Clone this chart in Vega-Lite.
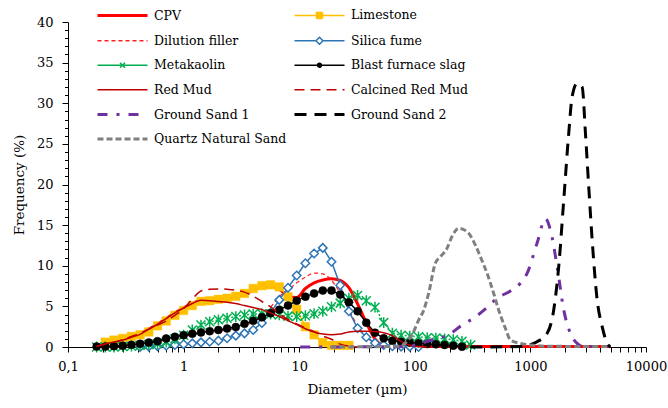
{
"$schema": "https://vega.github.io/schema/vega-lite/v6.json",
"width": 578, "height": 325,
"autosize": {"type": "none"},
"padding": {"left": 68, "top": 22, "right": 22, "bottom": 61},
"background": "white",
"data": {"values": [
{"s":"CPV","d":0.1768,"v":0.05},{"s":"CPV","d":0.2102,"v":0.4},{"s":"CPV","d":0.25,"v":0.6},{"s":"CPV","d":0.2973,"v":0.85},{"s":"CPV","d":0.3536,"v":1.2},{"s":"CPV","d":0.4204,"v":1.55},{"s":"CPV","d":0.5,"v":2.2},{"s":"CPV","d":0.5946,"v":2.8},{"s":"CPV","d":0.7071,"v":3.5},{"s":"CPV","d":0.8409,"v":4.2},{"s":"CPV","d":1,"v":4.8},{"s":"CPV","d":1.189,"v":5.35},{"s":"CPV","d":1.414,"v":5.75},{"s":"CPV","d":1.682,"v":5.8},{"s":"CPV","d":2,"v":5.9},{"s":"CPV","d":2.378,"v":6.0},{"s":"CPV","d":2.828,"v":6.2},{"s":"CPV","d":3.364,"v":6.5},{"s":"CPV","d":4,"v":7.0},{"s":"CPV","d":4.757,"v":7.4},{"s":"CPV","d":5.657,"v":7.5},{"s":"CPV","d":6.727,"v":7.1},{"s":"CPV","d":8,"v":6.3},{"s":"CPV","d":9.514,"v":6.1},{"s":"CPV","d":11.31,"v":7.2},{"s":"CPV","d":13.45,"v":7.9},{"s":"CPV","d":16,"v":8.25},{"s":"CPV","d":19.03,"v":8.4},{"s":"CPV","d":22.63,"v":8.2},{"s":"CPV","d":26.91,"v":7.3},{"s":"CPV","d":32,"v":5.3},{"s":"CPV","d":38.05,"v":3.0},{"s":"CPV","d":45.25,"v":1.0},{"s":"CPV","d":53.82,"v":0.2},{"s":"CPV","d":64,"v":0.05},{"s":"CPV","d":4871,"v":0.05},

{"s":"Limestone","d":0.2102,"v":0.6},{"s":"Limestone","d":0.25,"v":0.85},{"s":"Limestone","d":0.2973,"v":1.05},{"s":"Limestone","d":0.3536,"v":1.3},{"s":"Limestone","d":0.4204,"v":1.5},{"s":"Limestone","d":0.5,"v":1.85},{"s":"Limestone","d":0.5946,"v":2.6},{"s":"Limestone","d":0.7071,"v":3.2},{"s":"Limestone","d":0.8409,"v":3.9},{"s":"Limestone","d":1,"v":4.5},{"s":"Limestone","d":1.189,"v":5.1},{"s":"Limestone","d":1.414,"v":5.62},{"s":"Limestone","d":1.682,"v":5.7},{"s":"Limestone","d":2,"v":5.87},{"s":"Limestone","d":2.378,"v":6.0},{"s":"Limestone","d":2.828,"v":6.24},{"s":"Limestone","d":3.364,"v":6.6},{"s":"Limestone","d":4,"v":7.2},{"s":"Limestone","d":4.757,"v":7.55},{"s":"Limestone","d":5.657,"v":7.65},{"s":"Limestone","d":6.727,"v":7.4},{"s":"Limestone","d":8,"v":6.2},{"s":"Limestone","d":9.514,"v":4.64},{"s":"Limestone","d":11.31,"v":2.5},{"s":"Limestone","d":13.45,"v":1.5},{"s":"Limestone","d":16,"v":0.55},{"s":"Limestone","d":19.03,"v":0.2},{"s":"Limestone","d":22.63,"v":0.2},{"s":"Limestone","d":26.91,"v":0.2},

{"s":"Dilution filler","d":0.1768,"v":0.05},{"s":"Dilution filler","d":0.2102,"v":0.05},{"s":"Dilution filler","d":0.25,"v":0.05},{"s":"Dilution filler","d":0.2973,"v":0.12},{"s":"Dilution filler","d":0.3536,"v":0.22},{"s":"Dilution filler","d":0.4204,"v":0.35},{"s":"Dilution filler","d":0.5,"v":0.48},{"s":"Dilution filler","d":0.5946,"v":0.62},{"s":"Dilution filler","d":0.7071,"v":0.9},{"s":"Dilution filler","d":0.8409,"v":1.1},{"s":"Dilution filler","d":1,"v":1.3},{"s":"Dilution filler","d":1.189,"v":1.48},{"s":"Dilution filler","d":1.414,"v":1.63},{"s":"Dilution filler","d":1.682,"v":1.78},{"s":"Dilution filler","d":2,"v":1.93},{"s":"Dilution filler","d":2.378,"v":2.1},{"s":"Dilution filler","d":2.828,"v":2.3},{"s":"Dilution filler","d":3.364,"v":2.65},{"s":"Dilution filler","d":4,"v":3.1},{"s":"Dilution filler","d":4.757,"v":3.9},{"s":"Dilution filler","d":5.657,"v":4.9},{"s":"Dilution filler","d":6.727,"v":6.2},{"s":"Dilution filler","d":8,"v":7.0},{"s":"Dilution filler","d":9.514,"v":7.9},{"s":"Dilution filler","d":11.31,"v":8.6},{"s":"Dilution filler","d":13.45,"v":9.1},{"s":"Dilution filler","d":16,"v":9.0},{"s":"Dilution filler","d":19.03,"v":8.2},{"s":"Dilution filler","d":22.63,"v":6.6},{"s":"Dilution filler","d":26.91,"v":4.6},{"s":"Dilution filler","d":32,"v":2.6},{"s":"Dilution filler","d":38.05,"v":1.2},{"s":"Dilution filler","d":45.25,"v":0.5},{"s":"Dilution filler","d":53.82,"v":0.2},{"s":"Dilution filler","d":64,"v":0.1},{"s":"Dilution filler","d":76.11,"v":0},

{"s":"Silica fume","d":0.4204,"v":0},{"s":"Silica fume","d":0.5,"v":0.05},{"s":"Silica fume","d":0.5946,"v":0.1},{"s":"Silica fume","d":0.7071,"v":0.15},{"s":"Silica fume","d":0.8409,"v":0.25},{"s":"Silica fume","d":1,"v":0.33},{"s":"Silica fume","d":1.189,"v":0.45},{"s":"Silica fume","d":1.414,"v":0.57},{"s":"Silica fume","d":1.682,"v":0.65},{"s":"Silica fume","d":2,"v":0.78},{"s":"Silica fume","d":2.378,"v":1.07},{"s":"Silica fume","d":2.828,"v":1.4},{"s":"Silica fume","d":3.364,"v":1.68},{"s":"Silica fume","d":4,"v":2.1},{"s":"Silica fume","d":4.757,"v":2.95},{"s":"Silica fume","d":5.657,"v":4.2},{"s":"Silica fume","d":6.727,"v":5.8},{"s":"Silica fume","d":8,"v":7.3},{"s":"Silica fume","d":9.514,"v":8.8},{"s":"Silica fume","d":11.31,"v":10.3},{"s":"Silica fume","d":13.45,"v":11.5},{"s":"Silica fume","d":16,"v":12.2},{"s":"Silica fume","d":19.03,"v":10.5},{"s":"Silica fume","d":22.63,"v":7.6},{"s":"Silica fume","d":26.91,"v":4.4},{"s":"Silica fume","d":32,"v":2.3},{"s":"Silica fume","d":38.05,"v":1.2},{"s":"Silica fume","d":45.25,"v":0.5},{"s":"Silica fume","d":53.82,"v":0.25},{"s":"Silica fume","d":64,"v":0.1},{"s":"Silica fume","d":76.11,"v":0.05},{"s":"Silica fume","d":90.51,"v":0.05},{"s":"Silica fume","d":107.6,"v":0},

{"s":"Metakaolin","d":0.1768,"v":0},{"s":"Metakaolin","d":0.2102,"v":0},{"s":"Metakaolin","d":0.25,"v":0},{"s":"Metakaolin","d":0.2973,"v":0.05},{"s":"Metakaolin","d":0.3536,"v":0.1},{"s":"Metakaolin","d":0.4204,"v":0.2},{"s":"Metakaolin","d":0.5,"v":0.3},{"s":"Metakaolin","d":0.5946,"v":0.4},{"s":"Metakaolin","d":0.7071,"v":0.6},{"s":"Metakaolin","d":0.8409,"v":1.0},{"s":"Metakaolin","d":1,"v":1.45},{"s":"Metakaolin","d":1.189,"v":2.1},{"s":"Metakaolin","d":1.414,"v":2.7},{"s":"Metakaolin","d":1.682,"v":3.1},{"s":"Metakaolin","d":2,"v":3.35},{"s":"Metakaolin","d":2.378,"v":3.55},{"s":"Metakaolin","d":2.828,"v":3.75},{"s":"Metakaolin","d":3.364,"v":3.95},{"s":"Metakaolin","d":4,"v":4.05},{"s":"Metakaolin","d":4.757,"v":4.1},{"s":"Metakaolin","d":5.657,"v":4.05},{"s":"Metakaolin","d":6.727,"v":3.95},{"s":"Metakaolin","d":8,"v":3.8},{"s":"Metakaolin","d":9.514,"v":3.75},{"s":"Metakaolin","d":11.31,"v":3.85},{"s":"Metakaolin","d":13.45,"v":4.1},{"s":"Metakaolin","d":16,"v":4.4},{"s":"Metakaolin","d":19.03,"v":4.95},{"s":"Metakaolin","d":22.63,"v":5.4},{"s":"Metakaolin","d":26.91,"v":6.0},{"s":"Metakaolin","d":32,"v":6.35},{"s":"Metakaolin","d":38.05,"v":5.7},{"s":"Metakaolin","d":45.25,"v":4.9},{"s":"Metakaolin","d":53.82,"v":3.0},{"s":"Metakaolin","d":64,"v":1.7},{"s":"Metakaolin","d":76.11,"v":1.45},{"s":"Metakaolin","d":90.51,"v":1.35},{"s":"Metakaolin","d":107.6,"v":1.25},{"s":"Metakaolin","d":128,"v":1.15},{"s":"Metakaolin","d":152.2,"v":1.1},{"s":"Metakaolin","d":181,"v":1.0},{"s":"Metakaolin","d":215.3,"v":0.9},{"s":"Metakaolin","d":256,"v":0.7},{"s":"Metakaolin","d":304.4,"v":0.25},

{"s":"Blast furnace slag","d":0.1768,"v":0.05},{"s":"Blast furnace slag","d":0.2102,"v":0.05},{"s":"Blast furnace slag","d":0.25,"v":0.1},{"s":"Blast furnace slag","d":0.2973,"v":0.15},{"s":"Blast furnace slag","d":0.3536,"v":0.27},{"s":"Blast furnace slag","d":0.4204,"v":0.4},{"s":"Blast furnace slag","d":0.5,"v":0.55},{"s":"Blast furnace slag","d":0.5946,"v":0.72},{"s":"Blast furnace slag","d":0.7071,"v":1.05},{"s":"Blast furnace slag","d":0.8409,"v":1.25},{"s":"Blast furnace slag","d":1,"v":1.46},{"s":"Blast furnace slag","d":1.189,"v":1.64},{"s":"Blast furnace slag","d":1.414,"v":1.8},{"s":"Blast furnace slag","d":1.682,"v":1.95},{"s":"Blast furnace slag","d":2,"v":2.1},{"s":"Blast furnace slag","d":2.378,"v":2.27},{"s":"Blast furnace slag","d":2.828,"v":2.45},{"s":"Blast furnace slag","d":3.364,"v":2.85},{"s":"Blast furnace slag","d":4,"v":3.22},{"s":"Blast furnace slag","d":4.757,"v":3.65},{"s":"Blast furnace slag","d":5.657,"v":4.15},{"s":"Blast furnace slag","d":6.727,"v":4.6},{"s":"Blast furnace slag","d":8,"v":5.1},{"s":"Blast furnace slag","d":9.514,"v":5.7},{"s":"Blast furnace slag","d":11.31,"v":6.2},{"s":"Blast furnace slag","d":13.45,"v":6.6},{"s":"Blast furnace slag","d":16,"v":6.95},{"s":"Blast furnace slag","d":19.03,"v":6.95},{"s":"Blast furnace slag","d":22.63,"v":6.45},{"s":"Blast furnace slag","d":26.91,"v":5.5},{"s":"Blast furnace slag","d":32,"v":4.4},{"s":"Blast furnace slag","d":38.05,"v":3.0},{"s":"Blast furnace slag","d":45.25,"v":1.76},{"s":"Blast furnace slag","d":53.82,"v":1.07},{"s":"Blast furnace slag","d":64,"v":0.78},{"s":"Blast furnace slag","d":76.11,"v":0.65},{"s":"Blast furnace slag","d":90.51,"v":0.53},{"s":"Blast furnace slag","d":107.6,"v":0.45},{"s":"Blast furnace slag","d":128,"v":0.37},{"s":"Blast furnace slag","d":152.2,"v":0.33},{"s":"Blast furnace slag","d":181,"v":0.25},{"s":"Blast furnace slag","d":215.3,"v":0.16},{"s":"Blast furnace slag","d":256,"v":0.04},

{"s":"Red Mud","d":0.1768,"v":0.05},{"s":"Red Mud","d":0.2102,"v":0.4},{"s":"Red Mud","d":0.25,"v":0.6},{"s":"Red Mud","d":0.2973,"v":0.85},{"s":"Red Mud","d":0.3536,"v":1.2},{"s":"Red Mud","d":0.4204,"v":1.55},{"s":"Red Mud","d":0.5,"v":2.2},{"s":"Red Mud","d":0.5946,"v":2.8},{"s":"Red Mud","d":0.7071,"v":3.5},{"s":"Red Mud","d":0.8409,"v":4.2},{"s":"Red Mud","d":1,"v":4.8},{"s":"Red Mud","d":1.189,"v":5.35},{"s":"Red Mud","d":1.414,"v":5.75},{"s":"Red Mud","d":1.682,"v":5.7},{"s":"Red Mud","d":2,"v":5.6},{"s":"Red Mud","d":2.378,"v":5.5},{"s":"Red Mud","d":2.828,"v":5.35},{"s":"Red Mud","d":3.364,"v":5.1},{"s":"Red Mud","d":4,"v":4.85},{"s":"Red Mud","d":4.757,"v":4.6},{"s":"Red Mud","d":5.657,"v":4.2},{"s":"Red Mud","d":6.727,"v":3.75},{"s":"Red Mud","d":8,"v":3.25},{"s":"Red Mud","d":9.514,"v":2.75},{"s":"Red Mud","d":11.31,"v":2.25},{"s":"Red Mud","d":13.45,"v":1.85},{"s":"Red Mud","d":16,"v":1.6},{"s":"Red Mud","d":19.03,"v":1.5},{"s":"Red Mud","d":22.63,"v":1.6},{"s":"Red Mud","d":26.91,"v":1.85},{"s":"Red Mud","d":32,"v":1.95},{"s":"Red Mud","d":38.05,"v":1.95},{"s":"Red Mud","d":45.25,"v":1.9},{"s":"Red Mud","d":53.82,"v":1.75},{"s":"Red Mud","d":64,"v":1.4},{"s":"Red Mud","d":76.11,"v":0.7},{"s":"Red Mud","d":90.51,"v":0.22},{"s":"Red Mud","d":107.6,"v":0.05},{"s":"Red Mud","d":128,"v":0},

{"s":"Calcined Red Mud","d":0.1768,"v":0.1},{"s":"Calcined Red Mud","d":0.2102,"v":0.35},{"s":"Calcined Red Mud","d":0.25,"v":0.6},{"s":"Calcined Red Mud","d":0.2973,"v":0.9},{"s":"Calcined Red Mud","d":0.3536,"v":1.3},{"s":"Calcined Red Mud","d":0.4204,"v":1.7},{"s":"Calcined Red Mud","d":0.5,"v":2.2},{"s":"Calcined Red Mud","d":0.5946,"v":2.7},{"s":"Calcined Red Mud","d":0.7071,"v":3.2},{"s":"Calcined Red Mud","d":0.8409,"v":3.9},{"s":"Calcined Red Mud","d":1,"v":4.7},{"s":"Calcined Red Mud","d":1.189,"v":5.9},{"s":"Calcined Red Mud","d":1.414,"v":6.9},{"s":"Calcined Red Mud","d":1.682,"v":7.1},{"s":"Calcined Red Mud","d":2,"v":7.15},{"s":"Calcined Red Mud","d":2.378,"v":7.1},{"s":"Calcined Red Mud","d":2.828,"v":7.0},{"s":"Calcined Red Mud","d":3.364,"v":6.75},{"s":"Calcined Red Mud","d":4,"v":6.25},{"s":"Calcined Red Mud","d":4.757,"v":5.6},{"s":"Calcined Red Mud","d":5.657,"v":4.95},{"s":"Calcined Red Mud","d":6.727,"v":4.1},{"s":"Calcined Red Mud","d":8,"v":3.4},{"s":"Calcined Red Mud","d":9.514,"v":2.85},{"s":"Calcined Red Mud","d":11.31,"v":2.35},{"s":"Calcined Red Mud","d":13.45,"v":1.9},{"s":"Calcined Red Mud","d":16,"v":1.35},{"s":"Calcined Red Mud","d":19.03,"v":0.95},{"s":"Calcined Red Mud","d":22.63,"v":0.35},{"s":"Calcined Red Mud","d":26.91,"v":0.1},{"s":"Calcined Red Mud","d":32,"v":0},

{"s":"Ground Sand 1","d":10.2,"v":0},{"s":"Ground Sand 1","d":82.8,"v":0.05},{"s":"Ground Sand 1","d":115.4,"v":0.5},{"s":"Ground Sand 1","d":150.5,"v":1.0},{"s":"Ground Sand 1","d":196.2,"v":1.5},{"s":"Ground Sand 1","d":256.2,"v":2.7},{"s":"Ground Sand 1","d":334.1,"v":3.7},{"s":"Ground Sand 1","d":415.9,"v":4.8},{"s":"Ground Sand 1","d":514.9,"v":6.0},{"s":"Ground Sand 1","d":671.2,"v":6.9},{"s":"Ground Sand 1","d":819.3,"v":7.85},{"s":"Ground Sand 1","d":936.3,"v":9.07},{"s":"Ground Sand 1","d":1142.9,"v":12.8},{"s":"Ground Sand 1","d":1348.8,"v":15.8},{"s":"Ground Sand 1","d":1490,"v":14.4},{"s":"Ground Sand 1","d":1703,"v":9.9},{"s":"Ground Sand 1","d":1943,"v":4.55},{"s":"Ground Sand 1","d":2220,"v":1.68},{"s":"Ground Sand 1","d":2537,"v":0.45},{"s":"Ground Sand 1","d":2894,"v":0.05},{"s":"Ground Sand 1","d":4642,"v":0.05},

{"s":"Ground Sand 2","d":302.3,"v":0},{"s":"Ground Sand 2","d":819.3,"v":0.05},{"s":"Ground Sand 2","d":999.8,"v":0.3},{"s":"Ground Sand 2","d":1143,"v":0.65},{"s":"Ground Sand 2","d":1395,"v":1.68},{"s":"Ground Sand 2","d":1591,"v":4.55},{"s":"Ground Sand 2","d":1758,"v":9.9},{"s":"Ground Sand 2","d":1943,"v":18.1},{"s":"Ground Sand 2","d":2146,"v":26.3},{"s":"Ground Sand 2","d":2296,"v":30.8},{"s":"Ground Sand 2","d":2537,"v":32.45},{"s":"Ground Sand 2","d":2803,"v":32.0},{"s":"Ground Sand 2","d":2994,"v":26.3},{"s":"Ground Sand 2","d":3197,"v":19.7},{"s":"Ground Sand 2","d":3421,"v":13.2},{"s":"Ground Sand 2","d":3780,"v":5.8},{"s":"Ground Sand 2","d":4177,"v":2.5},{"s":"Ground Sand 2","d":4615,"v":0.45},{"s":"Ground Sand 2","d":4928,"v":0},

{"s":"Quartz Natural Sand","d":18.55,"v":0},{"s":"Quartz Natural Sand","d":74.9,"v":0.1},{"s":"Quartz Natural Sand","d":82.8,"v":0.5},{"s":"Quartz Natural Sand","d":94.6,"v":1.5},{"s":"Quartz Natural Sand","d":107.9,"v":3.3},{"s":"Quartz Natural Sand","d":119.2,"v":4.5},{"s":"Quartz Natural Sand","d":131.7,"v":6.6},{"s":"Quartz Natural Sand","d":150.5,"v":10.3},{"s":"Quartz Natural Sand","d":166.3,"v":11.1},{"s":"Quartz Natural Sand","d":190,"v":12.15},{"s":"Quartz Natural Sand","d":209.9,"v":13.6},{"s":"Quartz Natural Sand","d":239.5,"v":14.6},{"s":"Quartz Natural Sand","d":283.1,"v":14.2},{"s":"Quartz Natural Sand","d":334.1,"v":12.55},{"s":"Quartz Natural Sand","d":369.1,"v":11.1},{"s":"Quartz Natural Sand","d":421.8,"v":9.07},{"s":"Quartz Natural Sand","d":481.2,"v":6.6},{"s":"Quartz Natural Sand","d":531.6,"v":4.55},{"s":"Quartz Natural Sand","d":607.5,"v":2.3},{"s":"Quartz Natural Sand","d":671.2,"v":0.86},{"s":"Quartz Natural Sand","d":819.3,"v":0.45},{"s":"Quartz Natural Sand","d":999.8,"v":0.25},{"s":"Quartz Natural Sand","d":1349,"v":0.1},{"s":"Quartz Natural Sand","d":4642,"v":0.05}
]},
"encoding": {
  "x": {"field": "d", "type": "quantitative",
        "scale": {"type": "log", "domain": [0.1, 10000], "nice": false},
        "axis": {"title": "Diameter (µm)",
                 "values": [0.1,0.2,0.3,0.4,0.5,0.6,0.7,0.8,0.9,1,2,3,4,5,6,7,8,9,10,20,30,40,50,60,70,80,90,100,200,300,400,500,600,700,800,900,1000,2000,3000,4000,5000,6000,7000,8000,9000,10000],
                 "labelExpr": "datum.value === 0.1 ? '0,1' : (indexof([1,10,100,1000,10000], datum.value) >= 0 ? format(datum.value, 'd') : '')",
                 "tickSize": 5, "labelPadding": 8, "titlePadding": 9,
                 "labelOverlap": false, "labelFlush": false, "labelBound": false}},
  "y": {"field": "v", "type": "quantitative",
        "scale": {"domain": [0, 40], "nice": false},
        "axis": {"title": "Frequency (%)",
                 "values": [0,1,2,3,4,5,6,7,8,9,10,11,12,13,14,15,16,17,18,19,20,21,22,23,24,25,26,27,28,29,30,31,32,33,34,35,36,37,38,39,40],
                 "labelExpr": "datum.value % 5 === 0 ? datum.label : ''",
                 "tickSize": {"condition": {"test": "datum.value % 5 === 0", "value": 6}, "value": 3.5},
                 "labelPadding": 9, "titlePadding": 10, "labelOverlap": false}}
},
"layer": [
  {"transform": [{"filter": "datum.s === 'CPV'"}], "mark": {"type": "line", "color": "#FF0000", "strokeWidth": 3, "interpolate": "monotone"}, "encoding": {}},
  {"transform": [{"filter": "datum.s === 'Limestone'"}], "mark": {"type": "line", "color": "#FFC000", "strokeWidth": 1.5}, "encoding": {}},
  {"transform": [{"filter": "datum.s === 'Limestone'"}], "mark": {"type": "point", "shape": "square", "filled": true, "fill": "#FFC000", "stroke": "#FFC000", "strokeWidth": 0.5, "size": 72, "opacity": 1}, "encoding": {}},
  {"transform": [{"filter": "datum.s === 'Dilution filler'"}], "mark": {"type": "line", "color": "#FF1F1F", "strokeWidth": 1.25, "strokeDash": [4, 3], "interpolate": "monotone"}, "encoding": {}},
  {"transform": [{"filter": "datum.s === 'Silica fume'"}], "mark": {"type": "line", "color": "#2E75B6", "strokeWidth": 1.5}, "encoding": {}},
  {"transform": [{"filter": "datum.s === 'Silica fume'"}], "mark": {"type": "point", "shape": "diamond", "filled": true, "fill": "white", "stroke": "#2E75B6", "strokeWidth": 1.5, "size": 72, "opacity": 1}, "encoding": {}},
  {"transform": [{"filter": "datum.s === 'Metakaolin'"}], "mark": {"type": "line", "color": "#00B050", "strokeWidth": 1.5, "strokeDash": [2, 2]}, "encoding": {}},
  {"transform": [{"filter": "datum.s === 'Metakaolin'"}], "mark": {"type": "point", "shape": "M-1,-1L1,1M-1,1L1,-1M0,-1.2L0,1.2", "filled": false, "stroke": "#00B050", "strokeWidth": 1.5, "size": 81, "opacity": 1}, "encoding": {}},
  {"transform": [{"filter": "datum.s === 'Blast furnace slag'"}], "mark": {"type": "line", "color": "#000000", "strokeWidth": 1.5}, "encoding": {}},
  {"transform": [{"filter": "datum.s === 'Blast furnace slag'"}], "mark": {"type": "point", "shape": "circle", "filled": true, "fill": "#000000", "stroke": "#000000", "strokeWidth": 0.5, "size": 64, "opacity": 1}, "encoding": {}},
  {"transform": [{"filter": "datum.s === 'Red Mud'"}], "mark": {"type": "line", "color": "#C00000", "strokeWidth": 1.5, "interpolate": "monotone"}, "encoding": {}},
  {"transform": [{"filter": "datum.s === 'Calcined Red Mud'"}], "mark": {"type": "line", "color": "#C00000", "strokeWidth": 1.5, "strokeDash": [10, 6], "interpolate": "monotone"}, "encoding": {}},
  {"transform": [{"filter": "datum.s === 'Ground Sand 1'"}], "mark": {"type": "line", "color": "#7030A0", "strokeWidth": 3, "strokeDash": [10, 9, 3, 9], "interpolate": "monotone"}, "encoding": {}},
  {"transform": [{"filter": "datum.s === 'Ground Sand 2'"}], "mark": {"type": "line", "color": "#000000", "strokeWidth": 3, "strokeDash": [12, 8], "interpolate": "monotone"}, "encoding": {}},
  {"transform": [{"filter": "datum.s === 'Quartz Natural Sand'"}], "mark": {"type": "line", "color": "#808080", "strokeWidth": 3, "strokeDash": [6, 3], "interpolate": "monotone"}, "encoding": {}},
  {"transform": [{"filter": "datum.v < -100"}],
   "mark": {"type": "point", "opacity": 1},
   "encoding": {
     "stroke": {"field": "s", "type": "nominal",
       "scale": {"domain": ["CPV","Limestone","Dilution filler","Silica fume","Metakaolin","Blast furnace slag","Red Mud","Calcined Red Mud","Ground Sand 1","Ground Sand 2","Quartz Natural Sand"],
                 "range": ["#FF0000","#FFC000","#FF1F1F","#2E75B6","#00B050","#000000","#C00000","#C00000","#7030A0","#000000","#808080"]},
       "legend": {"title": null, "orient": "none", "direction": "horizontal", "legendX": 28, "legendY": -13, "columns": 2, "symbolSize": 100, "symbolOffset": 20, "symbolFillColor": "transparent", "labelFont": "DejaVu Serif", "labelFontSize": 12.5, "labelColor": "black", "labelOffset": 25, "rowPadding": 11.5, "columnPadding": 1, "padding": 0, "labelLimit": 300}},
     "fill": {"field": "s", "type": "nominal",
       "scale": {"domain": ["CPV","Limestone","Dilution filler","Silica fume","Metakaolin","Blast furnace slag","Red Mud","Calcined Red Mud","Ground Sand 1","Ground Sand 2","Quartz Natural Sand"],
                 "range": ["transparent","#FFC000","transparent","#FFFFFF","transparent","#000000","transparent","transparent","transparent","transparent","transparent"]},
       "legend": {"title": null, "orient": "none", "direction": "horizontal", "legendX": 28, "legendY": -13, "columns": 2, "symbolSize": 100, "symbolOffset": 20, "symbolFillColor": "transparent", "labelFont": "DejaVu Serif", "labelFontSize": 12.5, "labelColor": "black", "labelOffset": 25, "rowPadding": 11.5, "columnPadding": 1, "padding": 0, "labelLimit": 300}},
     "shape": {"field": "s", "type": "nominal",
       "scale": {"domain": ["CPV","Limestone","Dilution filler","Silica fume","Metakaolin","Blast furnace slag","Red Mud","Calcined Red Mud","Ground Sand 1","Ground Sand 2","Quartz Natural Sand"],
                 "range": ["M-5,0L5,0",
                           "M-5,0L5,0M-0.6,-0.6L0.6,-0.6L0.6,0.6L-0.6,0.6Z",
                           "M-5,0L5,0",
                           "M-5,0L-0.7,0M0.7,0L5,0M-0.7,0L0,-0.7L0.7,0L0,0.7Z",
                           "M-5,0L5,0M-0.5,-0.5L0.5,0.5M-0.5,0.5L0.5,-0.5",
                           "M-5,0L5,0M-0.4,0A0.4,0.4,0,1,0,0.4,0A0.4,0.4,0,1,0,-0.4,0Z",
                           "M-5,0L5,0","M-5,0L5,0","M-5,0L5,0","M-5,0L5,0","M-5,0L5,0"]},
       "legend": {"title": null, "orient": "none", "direction": "horizontal", "legendX": 28, "legendY": -13, "columns": 2, "symbolSize": 100, "symbolOffset": 20, "symbolFillColor": "transparent", "labelFont": "DejaVu Serif", "labelFontSize": 12.5, "labelColor": "black", "labelOffset": 25, "rowPadding": 11.5, "columnPadding": 1, "padding": 0, "labelLimit": 300}},
     "strokeDash": {"field": "s", "type": "nominal",
       "scale": {"domain": ["CPV","Limestone","Dilution filler","Silica fume","Metakaolin","Blast furnace slag","Red Mud","Calcined Red Mud","Ground Sand 1","Ground Sand 2","Quartz Natural Sand"],
                 "range": [[1,0],[1,0],[4,3],[1,0],[1,0],[1,0],[1,0],[10,6],[10,9,3,9],[12,8],[6,3]]},
       "legend": {"title": null, "orient": "none", "direction": "horizontal", "legendX": 28, "legendY": -13, "columns": 2, "symbolSize": 100, "symbolOffset": 20, "symbolFillColor": "transparent", "labelFont": "DejaVu Serif", "labelFontSize": 12.5, "labelColor": "black", "labelOffset": 25, "rowPadding": 11.5, "columnPadding": 1, "padding": 0, "labelLimit": 300}},
     "strokeWidth": {"field": "s", "type": "nominal",
       "scale": {"type": "ordinal", "domain": ["CPV","Limestone","Dilution filler","Silica fume","Metakaolin","Blast furnace slag","Red Mud","Calcined Red Mud","Ground Sand 1","Ground Sand 2","Quartz Natural Sand"],
                 "range": [3,1.5,1.5,1.5,1.5,1.5,1.5,1.5,3,3,3]},
       "legend": {"title": null, "orient": "none", "direction": "horizontal", "legendX": 28, "legendY": -13, "columns": 2, "symbolSize": 100, "symbolOffset": 20, "symbolFillColor": "transparent", "labelFont": "DejaVu Serif", "labelFontSize": 12.5, "labelColor": "black", "labelOffset": 25, "rowPadding": 11.5, "columnPadding": 1, "padding": 0, "labelLimit": 300}}
   }}
],
"config": {
  "view": {"stroke": null},
  "axis": {"labelFont": "DejaVu Serif", "titleFont": "DejaVu Serif", "labelFontSize": 13, "titleFontSize": 13.5, "titleFontWeight": "normal", "labelColor": "black", "titleColor": "black", "domainColor": "black", "tickColor": "black", "grid": false, "domainWidth": 1, "tickWidth": 1}
}
}
